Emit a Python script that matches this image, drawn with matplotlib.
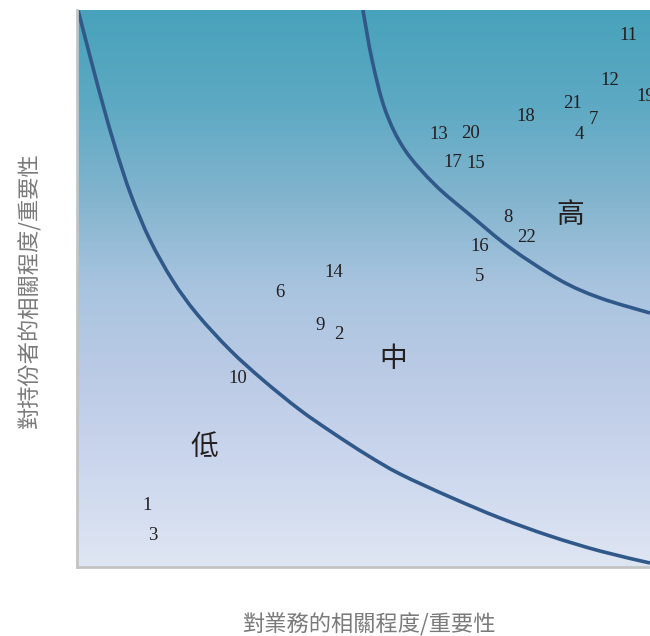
import numpy as np
import matplotlib
matplotlib.use("Agg")
import matplotlib.pyplot as plt
from matplotlib.colors import LinearSegmentedColormap
from matplotlib.path import Path
from matplotlib.patches import PathPatch

# ---- data (axes span 0..100 on both dimensions) ----
labels = ["11", "12", "19", "21", "7", "4", "18", "13", "20", "17", "15",
          "8", "22", "16", "5", "14", "6", "9", "2", "10", "1", "3"]
x_vals = [96.2, 93.0, 99.3, 86.4, 90.1, 87.6, 78.4, 63.2, 68.6, 65.6, 69.6,
          75.2, 78.4, 70.3, 70.3, 44.9, 35.4, 42.4, 45.7, 28.1, 12.2, 13.3]
y_vals = [95.5, 87.4, 84.4, 83.3, 80.3, 77.7, 80.8, 77.7, 77.9, 72.7, 72.5,
          62.8, 59.1, 57.6, 52.1, 52.8, 49.2, 43.3, 41.7, 33.9, 11.1, 5.6]

zone_names = ["高", "中", "低"]
zone_x = [86.0, 55.1, 22.3]
zone_y = [63.2, 37.3, 21.5]

# boundary curves: points
curve_low_x = [0.17, 2.44, 4.54, 6.81, 9.42, 12.74, 16.75, 20.94, 26.70, 32.46,
               38.92, 44.68, 50.61, 56.37, 65.10, 73.82, 82.55, 91.27, 100.0]
curve_low_y = [100.0, 91.02, 82.94, 74.87, 66.79, 58.71, 51.35, 45.42, 38.96, 33.57,
               28.19, 24.06, 20.11, 16.70, 12.57, 8.80, 5.57, 2.87, 0.72]

curve_high_x = [49.9, 51.5, 53.8, 57.2, 62.5, 68.6, 75.6, 84.3, 91.3, 100.0]
curve_high_y = [100.0, 91.0, 82.0, 74.9, 68.6, 63.2, 57.3, 51.5, 48.3, 45.6]

x_label = "對業務的相關程度/重要性"
y_label = "對持份者的相關程度/重要性"


def smooth_path(xs, ys):
    pts = np.column_stack([xs, ys]).astype(float)
    ext = np.vstack([pts[0], pts, pts[-1]])
    verts = [pts[0]]
    codes = [Path.MOVETO]
    for i in range(1, len(ext) - 2):
        p0, p1, p2, p3 = ext[i - 1], ext[i], ext[i + 1], ext[i + 2]
        c1 = p1 + (p2 - p0) / 6.0
        c2 = p2 - (p3 - p1) / 6.0
        verts += [c1, c2, p2]
        codes += [Path.CURVE4] * 3
    return Path(verts, codes)


# ---- figure ----
W, H = 650, 636
fig = plt.figure(figsize=(W / 100, H / 100), dpi=100)
ax = fig.add_axes([77 / W, (H - 567) / H, (650 - 77) / W, (567 - 10) / H])
ax.set_xlim(0, 100)
ax.set_ylim(0, 100)

grad_colors = ["#dfe6f3", "#cdd8ee", "#bccbe6", "#a9c4df", "#82b4ce", "#5da9c3", "#48a2bb"]
cmap = LinearSegmentedColormap.from_list("bg", grad_colors)
grad = np.linspace(0, 1, 256).reshape(-1, 1)
ax.imshow(grad, extent=[0, 100, 0, 100], origin="lower", aspect="auto",
          cmap=cmap, zorder=0, interpolation="bilinear")

line_color = "#30598a"
for cx, cy in [(curve_low_x, curve_low_y), (curve_high_x, curve_high_y)]:
    ax.add_patch(PathPatch(smooth_path(cx, cy), facecolor="none",
                           edgecolor=line_color, lw=2.6, zorder=2))

for lab, xv, yv in zip(labels, x_vals, y_vals):
    ax.text(xv, yv, lab, ha="center", va="center", fontsize=13.5,
            family="Liberation Serif", color="#231f20", zorder=3)

for name, xv, yv in zip(zone_names, zone_x, zone_y):
    ax.text(xv, yv, name, ha="center", va="center", fontsize=20,
            family=["Noto Sans CJK TC", "DejaVu Sans"], color="#231f20", zorder=3)

ax.set_xticks([])
ax.set_yticks([])
for s in ["top", "right"]:
    ax.spines[s].set_visible(False)
for s in ["left", "bottom"]:
    ax.spines[s].set_color("#c4c4c4")
    ax.spines[s].set_linewidth(2)

fig.text(370 / W, 1 - 625 / H, x_label, ha="center", va="center", fontsize=16,
         family=["Noto Sans CJK TC", "DejaVu Sans"], color="#7a7a7a")
fig.text(30 / W, 1 - 290 / H, y_label, ha="center", va="center", fontsize=16,
         rotation=90, family=["Noto Sans CJK TC", "DejaVu Sans"], color="#7a7a7a")

fig.savefig("out.png", dpi=100)
